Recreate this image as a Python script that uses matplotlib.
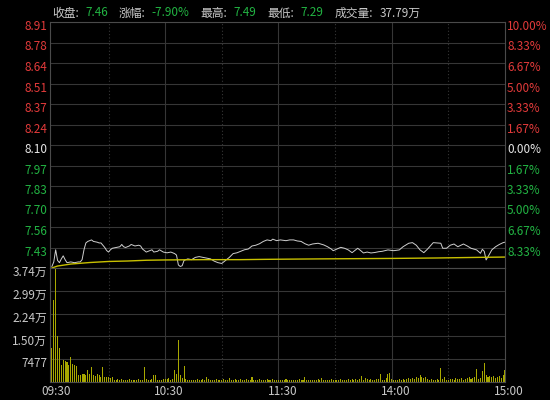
import matplotlib
matplotlib.use('Agg')
import matplotlib.pyplot as plt
from matplotlib import transforms

plt.rcParams['font.family'] = ['Noto Sans CJK SC', 'DejaVu Sans']

# ---- données (minutes depuis 09:30) ----
t_prix = [0, 1, 2, 3, 4, 5, 6, 7, 8, 10, 12, 14, 15, 16, 17, 18, 19, 20, 21, 22,
          24, 25, 26, 27, 28, 29, 30, 31, 32, 34, 36, 37, 38, 39, 41, 42, 44, 46, 47, 48,
          49, 50, 51, 53, 54, 56, 57, 59,
          61, 63, 65, 66, 67, 68, 69, 70, 72, 74, 76, 78, 80, 82, 84, 86, 88, 90, 92, 94,
          96, 98, 100, 102, 104, 106, 108, 110, 112, 114, 116, 117, 119,
          121, 124, 126, 128, 130, 132, 134, 136, 138, 141, 144, 146, 148, 149, 151, 153,
          155, 157, 159, 161, 162, 164, 165, 167, 169, 171, 173, 175, 178,
          181, 184, 186, 189, 191, 193, 195, 197, 199, 202, 204, 206, 207, 209, 211, 213,
          215, 218, 220, 222, 225, 227, 228, 229, 230, 231, 233, 235, 237, 239, 240]
prix = [7.30, 7.33, 7.41, 7.34, 7.325, 7.35, 7.37, 7.345, 7.325, 7.33, 7.325, 7.33, 7.33, 7.345, 7.41, 7.455, 7.465, 7.47, 7.475, 7.465,
        7.46, 7.455, 7.455, 7.44, 7.425, 7.405, 7.395, 7.41, 7.42, 7.425, 7.43, 7.445, 7.43, 7.425, 7.435, 7.445, 7.435, 7.44, 7.435, 7.415,
        7.405, 7.395, 7.40, 7.41, 7.395, 7.40, 7.41, 7.395,
        7.39, 7.395, 7.385, 7.375, 7.31, 7.30, 7.305, 7.34, 7.35, 7.345, 7.36, 7.365, 7.36, 7.355, 7.35, 7.335, 7.325, 7.32, 7.34, 7.36,
        7.385, 7.39, 7.40, 7.41, 7.415, 7.435, 7.44, 7.45, 7.465, 7.475, 7.47, 7.48, 7.47,
        7.475, 7.47, 7.475, 7.475, 7.468, 7.465, 7.45, 7.44, 7.448, 7.453, 7.442, 7.43, 7.415, 7.404, 7.415, 7.426,
        7.42, 7.409, 7.391, 7.41, 7.42, 7.40, 7.389, 7.395, 7.389, 7.392, 7.397, 7.40, 7.409,
        7.404, 7.409, 7.43, 7.453, 7.457, 7.44, 7.409, 7.391, 7.415, 7.457, 7.455, 7.453, 7.42, 7.42, 7.44, 7.448,
        7.43, 7.448, 7.435, 7.42, 7.409, 7.387, 7.413, 7.40, 7.343, 7.364, 7.409, 7.43, 7.445, 7.457, 7.46]

t_moy = [0, 3, 10, 20, 30, 40, 50, 60, 80, 100, 113, 142, 180, 204, 226, 240]
prix_moy = [7.29, 7.303, 7.316, 7.326, 7.333, 7.336, 7.341, 7.343, 7.345, 7.345, 7.347, 7.350, 7.353, 7.356, 7.360, 7.362]

volume = [11000, 27000, 45000, 15000, 11000, 5600, 7200, 7000, 6600, 5600,
          8300, 5900, 5600, 5200, 2300, 2300, 2700, 2500, 2300, 3900,
          2700, 5000, 2300, 2000, 2700, 2300, 1800, 5000, 1600, 1500,
          1800, 1300, 1700, 800, 600, 900, 700, 1000, 600, 800,
          700, 900, 600, 800, 700, 600, 900, 700, 800, 5000,
          900, 600, 700, 1100, 2300, 2300, 800, 600, 700, 900,
          1100, 900, 1200, 800, 1000, 3900, 2700, 13800, 2300, 1300,
          5200, 900, 700, 600, 800, 500, 700, 900, 600, 800,
          1000, 700, 1800, 900, 600, 800, 700, 1000, 600, 500,
          700, 900, 600, 800, 1200, 700, 600, 900, 500, 800,
          1000, 600, 700, 900, 600, 800, 1600, 700, 500, 600,
          900, 700, 800, 600, 1100, 700, 600, 900, 800, 700,
          800, 600, 700, 500, 900, 600, 700, 800, 500, 600,
          700, 900, 600, 800, 1600, 700, 600, 500, 800, 700,
          600, 900, 700, 1300, 800, 600, 700, 500, 900, 600,
          800, 700, 600, 900, 700, 800, 600, 1000, 700, 900,
          800, 1100, 700, 900, 2000, 800, 1200, 900, 700, 1000,
          800, 600, 900, 1100, 2500, 800, 700, 1200, 2500, 3000,
          900, 700, 800, 600, 900, 700, 1100, 800, 1000, 1200,
          900, 1400, 1100, 1800, 1300, 2200, 1800, 1200, 1500, 900,
          700, 1000, 800, 600, 900, 700, 4500, 1000, 1600, 800,
          700, 900, 1100, 800, 1200, 900, 1000, 1300, 800, 1100,
          1400, 1800, 900, 1200, 1500, 4300, 1100, 1300, 3500, 6100,
          2200, 1500, 2000, 1800, 2100, 1300, 1600, 1900, 1200, 2400, 4000]
t_vol = list(range(len(volume)))

prix_ticks = [8.91, 8.775, 8.64, 8.505, 8.37, 8.235, 8.10, 7.965, 7.83, 7.695, 7.56, 7.425]
prix_labels = ['8.91', '8.78', '8.64', '8.51', '8.37', '8.24', '8.10', '7.97', '7.83', '7.70', '7.56', '7.43']
pct_labels = ['10.00%', '8.33%', '6.67%', '5.00%', '3.33%', '1.67%', '0.00%',
              '1.67%', '3.33%', '5.00%', '6.67%', '8.33%']
vol_ticks = [7477, 14954, 22431, 29908, 37385]
vol_labels = ['7477', '1.50万', '2.24万', '2.99万', '3.74万']
t_ticks = [0, 60, 120, 180, 240]
t_labels = ['09:30', '10:30', '11:30', '14:00', '15:00']
t_pointilles = [30, 90, 150, 210]

prix_min, prix_max = 7.29, 8.91
prix_ref = 8.10
vol_max = 37385

rouge = '#e23a3a'
vert = '#22b443'
blanc = '#e6e6e6'
gris = '#c8c8c8'
grille = '#363636'
bord = '#4a4a4a'

# ---- figure ----
fig = plt.figure(figsize=(5.5, 4), dpi=100, facecolor='black')
ax1 = fig.add_axes([50/550, 132/400, 455/550, 246/400])
ax2 = fig.add_axes([50/550, 18/400, 455/550, 114/400])

for ax in (ax1, ax2):
    ax.set_facecolor('black')
    ax.set_xlim(-1, 240)
    for s in ax.spines.values():
        s.set_color(bord)
        s.set_linewidth(0.8)
    for t in t_ticks[1:-1]:
        ax.axvline(t, color=grille, lw=0.8, zorder=0)
    for t in t_pointilles:
        ax.axvline(t, color=grille, lw=0.8, ls=(0, (1, 2)), zorder=0)

# prix + prix moyen
ax1.set_ylim(prix_min, prix_max)
for p in prix_ticks:
    ax1.axhline(p, color=grille, lw=0.8, zorder=0)
ax1.plot(t_prix, prix, color='#cfcfcf', lw=0.7)
ax1.plot(t_moy, prix_moy, color='#c8c000', lw=1.0)
ax1.set_xticks([])
ax1.set_yticks(prix_ticks)
ax1.set_yticklabels(prix_labels)
ax1.tick_params(axis='y', length=0, pad=2, labelsize=8.5)

ax1r = ax1.twinx()
ax1r.set_ylim(prix_min, prix_max)
ax1r.set_yticks(prix_ticks)
ax1r.set_yticklabels(pct_labels)
ax1r.tick_params(axis='y', length=0, pad=1.5, labelsize=8.5)
for s in ax1r.spines.values():
    s.set_visible(False)

decal = transforms.ScaledTranslation(0, -3/100, fig.dpi_scale_trans)
for axe in (ax1, ax1r):
    for i, lab in enumerate(axe.get_yticklabels()):
        if prix_ticks[i] > prix_ref:
            lab.set_color(rouge)
        elif prix_ticks[i] < prix_ref:
            lab.set_color(vert)
        else:
            lab.set_color(blanc)
        lab.set_transform(lab.get_transform() + decal)

# volume
ax2.set_ylim(0, vol_max)
for v in vol_ticks:
    ax2.axhline(v, color=grille, lw=0.8, zorder=0)
ax2.bar(t_vol, volume, width=0.55, color='#a8a800', linewidth=0, antialiased=False)
ax2.set_yticks(vol_ticks)
ax2.set_yticklabels(vol_labels)
ax2.tick_params(axis='y', length=0, pad=2, labelsize=8.5, labelcolor=gris)
for lab in ax2.get_yticklabels():
    lab.set_transform(lab.get_transform() + decal)
ax2.set_xticks(t_ticks)
ax2.set_xticklabels(t_labels)
ax2.tick_params(axis='x', length=0, pad=2, labelsize=8.5, labelcolor=gris)
decal_x = transforms.ScaledTranslation(4/100, 0, fig.dpi_scale_trans)
for lab in ax2.get_xticklabels():
    lab.set_transform(lab.get_transform() + decal_x)

# ---- en-tête : textes enchaînés les uns après les autres ----
morceaux = [('收盘:', gris, 0), ('7.46', vert, 4.5), ('涨幅:', gris, 8), ('-7.90%', vert, 4.5),
            ('最高:', gris, 8), ('7.49', vert, 4.5), ('最低:', gris, 8), ('7.29', vert, 4.5),
            ('成交量:', gris, 8), ('37.79万', gris, 4.5)]
last = fig.text(52/550, 1 - 13/400, morceaux[0][0], color=morceaux[0][1],
                fontsize=8.5, va='center', ha='left')
for txt, col, esp in morceaux[1:]:
    last = ax1.annotate(txt, xy=(1, 0.5), xycoords=last, xytext=(esp, 0),
                        textcoords='offset points', color=col, fontsize=8.5,
                        va='center', ha='left', annotation_clip=False)

fig.savefig('out.png', dpi=100, facecolor='black')
